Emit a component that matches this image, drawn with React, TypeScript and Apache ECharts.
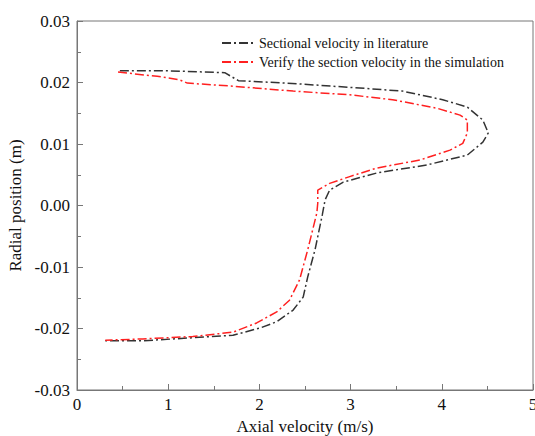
import React, { useEffect, useRef } from "react";
import * as echarts from "echarts";

const litX = [0.47, 1.0, 1.62, 1.77, 2.3, 3.1, 3.57, 4.01, 4.28, 4.45, 4.51, 4.45, 4.28, 3.84, 3.29, 2.92, 2.77, 2.72, 2.69, 2.61, 2.53, 2.48, 2.37, 2.19, 2.01, 1.71, 1.27, 0.72, 0.31];
const litY = [0.0219, 0.0219, 0.0216, 0.0203, 0.0199, 0.0191, 0.0186, 0.0172, 0.016, 0.0139, 0.0118, 0.0103, 0.0082, 0.0066, 0.0053, 0.0038, 0.0025, 0.0009, -0.0015, -0.0072, -0.0116, -0.0149, -0.017, -0.0189, -0.0199, -0.0211, -0.0215, -0.022, -0.022];

const simX = [0.45, 0.88, 1.02, 1.13, 1.21, 1.71, 2.37, 2.99, 3.46, 3.95, 4.2, 4.28, 4.28, 4.23, 4.09, 3.76, 3.29, 2.99, 2.77, 2.64, 2.64, 2.63, 2.53, 2.44, 2.33, 2.19, 1.97, 1.71, 1.27, 0.72, 0.31];
const simY = [0.0217, 0.021, 0.0207, 0.0204, 0.0199, 0.0194, 0.0186, 0.018, 0.0172, 0.0158, 0.0147, 0.0139, 0.0118, 0.0101, 0.009, 0.0074, 0.0061, 0.0047, 0.0036, 0.0025, 0.0004, -0.0012, -0.0072, -0.0121, -0.0154, -0.0173, -0.0191, -0.0206, -0.0213, -0.0217, -0.0219];

const seriesNames = ["Sectional velocity in literature", "Verify the section velocity in the simulation"];
const xAxisName = "Axial velocity (m/s)";
const yAxisName = "Radial position (m)";

const FONT = "Liberation Serif";

export default function App() {
  const ref = useRef<HTMLDivElement>(null);
  useEffect(() => {
    document.body.style.margin = "0";
    const chart = echarts.init(ref.current!, null, { renderer: "svg" });
    const lit = litX.map((x, i) => [x, litY[i]]);
    const sim = simX.map((x, i) => [x, simY[i]]);
    const axisCommon = {
      axisTick: { show: true, inside: true, length: 6, lineStyle: { color: "#777" } },
      minorTick: { show: true, splitNumber: 2, length: 4, lineStyle: { color: "#777" } },
      splitLine: { show: false },
      axisLabel: { color: "#111", fontFamily: FONT, fontSize: 17 },
      nameTextStyle: { color: "#111", fontFamily: FONT, fontSize: 17 },
    };
    chart.setOption({
      animation: false,
      backgroundColor: "#fff",
      textStyle: { fontFamily: FONT },
      grid: {
        left: 77, right: 2, top: 21, bottom: 46,
        outerBoundsMode: "none", containLabel: false,
        show: true, borderColor: "#777", borderWidth: 1,
      },
      legend: {
        orient: "vertical",
        left: 216,
        top: 31,
        itemWidth: 32,
        itemHeight: 10,
        itemGap: 5,
        itemStyle: { opacity: 0 },
        textStyle: { fontFamily: FONT, fontSize: 14, color: "#111" },
        data: seriesNames,
      },
      xAxis: {
        type: "value",
        min: 0,
        max: 5,
        interval: 1,
        name: xAxisName,
        nameLocation: "middle",
        nameGap: 26,
        axisLine: { show: true, onZero: false, lineStyle: { color: "#777", width: 1 } },
        ...axisCommon,
        axisLabel: { ...axisCommon.axisLabel, margin: 6 },
      },
      yAxis: {
        type: "value",
        min: -0.03,
        max: 0.03,
        interval: 0.01,
        name: yAxisName,
        nameLocation: "middle",
        nameGap: 52,
        axisLine: { show: true, onZero: false, lineStyle: { color: "#777", width: 1 } },
        ...axisCommon,
        axisLabel: { ...axisCommon.axisLabel, margin: 7, formatter: (v: number) => v.toFixed(2) },
      },
      series: [
        {
          name: seriesNames[0],
          type: "line",
          data: lit,
          symbol: "none",
          color: "#333",
          lineStyle: { color: "#333", width: 1.5, type: [9, 3, 2, 3] },
        },
        {
          name: seriesNames[1],
          type: "line",
          data: sim,
          symbol: "none",
          color: "#ff2020",
          lineStyle: { color: "#ff2020", width: 1.5, type: [9, 3, 2, 3] },
        },
      ],
    });
    return () => chart.dispose();
  }, []);
  return <div ref={ref} style={{ width: 535, height: 436, position: "fixed", left: 0, top: 0 }} />;
}
